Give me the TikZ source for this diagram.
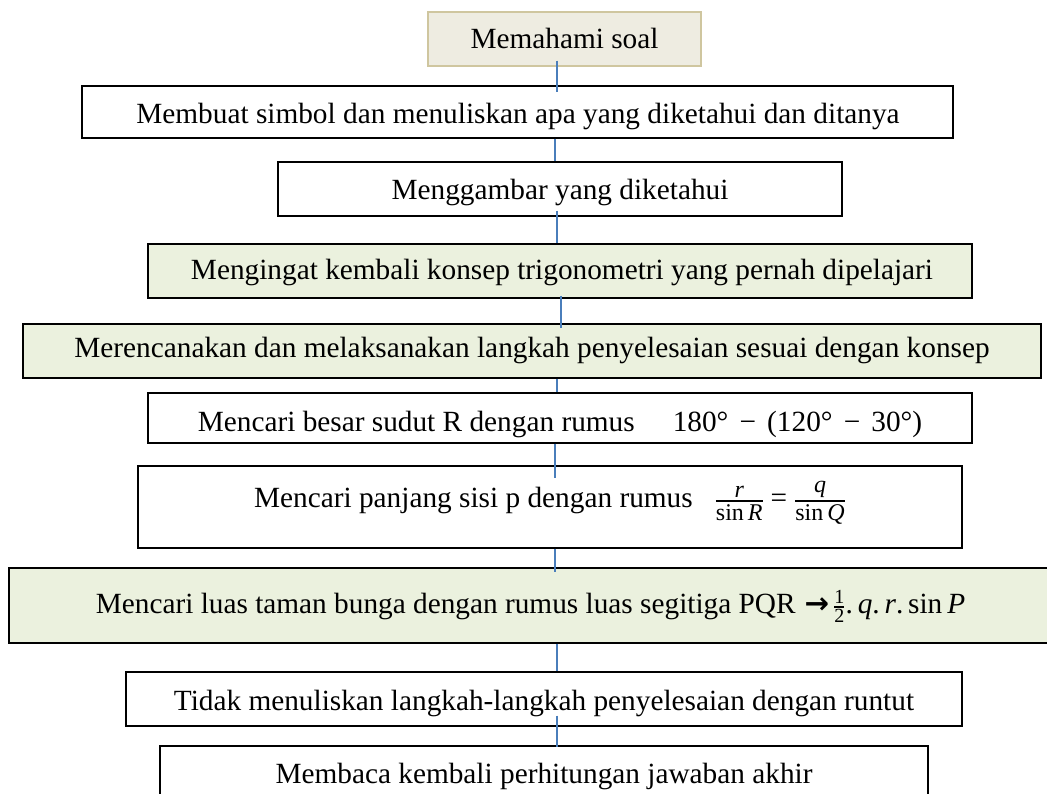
\documentclass[tikz,border=0pt]{standalone}
\usepackage{amsmath}
\usepackage{fontspec}
\setmainfont{Liberation Serif}
\newfontfamily\arrowfont{DejaVu Sans}
\definecolor{greenfill}{HTML}{EBF1DE}
\definecolor{beigefill}{HTML}{EEECE1}
\definecolor{beigeline}{HTML}{CFC69F}
\definecolor{connblue}{HTML}{4A7EBB}
\newcommand\myfr[4]{\genfrac{}{}{#1}{}{\text{\fontsize{#2}{#2}\selectfont #3}}{\text{\fontsize{#2}{#2}\selectfont #4}}}
\newcommand\msp{\hspace{0.38em}}
\begin{document}
\begin{tikzpicture}[x=1pt,y=-1pt,
  box/.style={draw=black, line width=1.2pt, fill=white, rectangle, inner sep=0pt},
  greenbox/.style={box, fill=greenfill},
  beigebox/.style={box, draw=beigeline, fill=beigefill},
  txt/.style={anchor=base, inner sep=0pt, font=\fontsize{29.3}{34}\selectfont},
  conn/.style={draw=connblue, line width=2pt}
]
\fill[white] (0,0) rectangle (1047,794);
\useasboundingbox (0,0) rectangle (1047,794);

% boxes
\node[beigebox, minimum width=273pt, minimum height=54pt] (b1) at (564.5,39) {};
\node[txt] (t1) at (564.5,49) {Memahami soal};

\node[box, minimum width=871pt, minimum height=52pt] (b2) at (517.5,112) {};
\node[txt] (t2) at (518,124) {Membuat simbol dan menuliskan apa yang diketahui dan ditanya};

\node[box, minimum width=564pt, minimum height=54pt] (b3) at (560,189) {};
\node[txt] (t3) at (560,200) {Menggambar yang diketahui};

\node[greenbox, minimum width=824pt, minimum height=54pt] (b4) at (560,271) {};
\node[txt] (t4) at (562,280) {Mengingat kembali konsep trigonometri yang pernah dipelajari};

\node[greenbox, minimum width=1018pt, minimum height=54pt] (b5) at (532,351) {};
\node[txt] (t5) at (532,358) {Merencanakan dan melaksanakan langkah penyelesaian sesuai dengan konsep};

\node[box, minimum width=824pt, minimum height=50pt] (b6) at (560,418) {};
\begin{scope}
\clip (149,394) rectangle (971,437.5);
\node[txt] (t6) at (560,431) {Mencari besar sudut R dengan rumus\hspace{38pt}180°\msp−\msp(120°\msp−\msp30°)};
\end{scope}

\node[box, minimum width=824pt, minimum height=82pt] (b7) at (550,507) {};
\node[txt] (t7) at (550,507) {Mencari panjang sisi p dengan rumus\hspace{22pt}$\myfr{2.4pt}{24}{\textit{r}}{sin\,\textit{R}}\mathrel{\text{=}}\myfr{2.4pt}{24}{\textit{q}}{sin\,\textit{Q}}$};

\node[greenbox, minimum width=1043pt, minimum height=75pt] (b8) at (530.5,605.5) {};
\node[txt] (t8) at (530.5,613) {Mencari luas taman bunga dengan rumus luas segitiga PQR\hspace{9pt}{\arrowfont\bfseries →}\hspace{4pt}$\myfr{1.8pt}{20}{1}{2}$.\,\textit{q}.\,\textit{r}.\,sin\,\textit{P}};

\node[box, minimum width=836pt, minimum height=54pt] (b9) at (544,699) {};
\node[txt] (t9) at (544,710) {Tidak menuliskan langkah-langkah penyelesaian dengan runtut};

\node[box, minimum width=768pt, minimum height=60pt] (b10) at (544,776) {};
\node[txt] (t10) at (544,783) {Membaca kembali perhitungan jawaban akhir};

% connectors
\coordinate (ax) at (557,0);
\coordinate (axb) at (555,0);
\coordinate (axc) at (561,0);
\draw[conn, shorten <=-6pt, shorten >=-7pt] (b1.south -| ax) -- (b2.north -| ax);
\draw[conn] (b2.south -| axb) -- (b3.north -| axb);
\draw[conn, shorten <=-6pt] (b3.south -| ax) -- (b4.north -| ax);
\draw[conn, shorten <=-3pt, shorten >=-5pt] (b4.south -| axc) -- (b5.north -| axc);
\draw[conn] (b5.south -| ax) -- (b6.north -| ax);
\draw[conn, shorten >=-13pt] (b6.south -| axb) -- (b7.north -| axb);
\draw[conn, shorten >=-5pt] (b7.south -| axb) -- (b8.north -| axb);
\draw[conn] (b8.south -| ax) -- (b9.north -| ax);
\draw[conn, shorten <=-11pt, shorten >=-2pt] (b9.south -| ax) -- (b10.north -| ax);
\end{tikzpicture}
\end{document}
